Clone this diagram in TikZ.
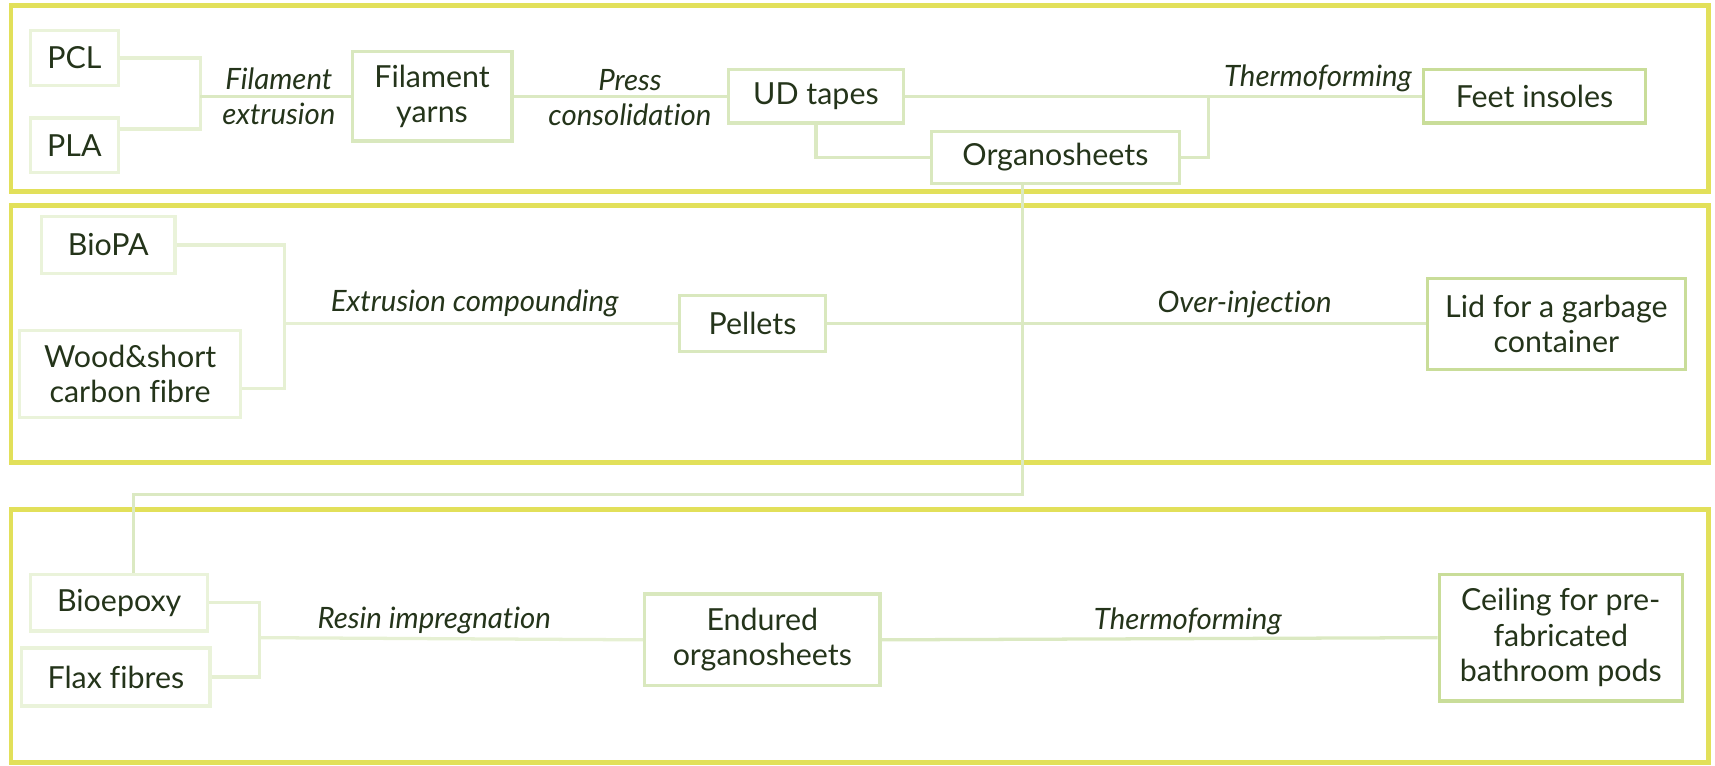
\documentclass[tikz,border=0pt]{standalone}
\usepackage{fontspec}
\setmainfont{Lato}[Ligatures=NoCommon]
\usetikzlibrary{calc}
\definecolor{frameyellow}{RGB}{226,224,90}
\definecolor{boxpale}{RGB}{234,243,218}
\definecolor{boxmid}{RGB}{217,232,190}
\definecolor{boxstrong}{RGB}{201,221,153}
\definecolor{linkpale}{RGB}{230,240,211}
\definecolor{linkmid}{RGB}{219,233,194}
\definecolor{textgreen}{RGB}{36,52,26}
\newcommand{\diagfont}{\fontsize{7.9}{9.2}\selectfont}
\newcommand{\procfont}{\fontsize{7.65}{9.2}\selectfont\itshape}
\tikzset{
    frame/.style={draw=frameyellow, line width=1.2pt}, % the three yellow panels
    src/.style={draw=boxpale, line width=0.85pt, text=textgreen, align=center, inner sep=0pt, font=\diagfont},
    mid/.style={src, draw=boxmid},
    prod/.style={src, draw=boxstrong},
    link/.style={draw=linkmid, line width=0.85pt},
    linkin/.style={link, draw=linkpale},
    proc/.style={font=\procfont, text=textgreen, align=center, inner sep=0pt},
}

\begin{document}
\begin{tikzpicture}[x=0.01cm, y=-0.01cm]
  \useasboundingbox (0,0) rectangle (1568,700);

  % Panels
  \draw[frame] (10,5) rectangle (1562,175);
  \draw[frame] (10,188) rectangle (1562,423);
  \draw[frame] (10,466) rectangle (1562,697);

  % Top panel
  \node[src, minimum width=0.80cm, minimum height=0.50cm] (PCL) at (68,53) {PCL};
  \node[src, minimum width=0.80cm, minimum height=0.50cm] (PLA) at (68,133) {PLA};
  \node[mid, minimum width=1.46cm, minimum height=0.82cm] (yarns) at (395,88) {Filament\\yarns};
  \node[mid, minimum width=1.60cm, minimum height=0.49cm] (udtapes) at (746,88) {UD tapes};
  \node[mid, minimum width=2.27cm, minimum height=0.48cm] (organo) at (965,144) {Organosheets};
  \node[prod, minimum width=2.03cm, minimum height=0.49cm] (insoles) at (1403,88) {Feet insoles};

  \coordinate (jA) at (183,88);
  \coordinate (jB) at (1105,88);
  \draw[linkin] (PCL.east) -| (jA);
  \draw[linkin] ([yshift=0.15cm]PLA.east) -| (jA);
  \draw[link] (jA) -- (yarns.west);
  \draw[link] (yarns.east) -- (udtapes.west);
  \draw[link] (udtapes.south) |- (organo.west);
  \draw[link] (udtapes.east) -- (insoles.west);
  \draw[link] (organo.east) -| (jB);

  \node[proc] (lblExtr) at (255,88) {Filament\\extrusion};
  \node[proc] (lblPress) at (576,89) {Press\\consolidation};
  \node[proc] (lblThermoA) at (1205,72) {Thermoforming};

  % Middle panel
  \node[src, minimum width=1.22cm, minimum height=0.52cm] (biopa) at (99,224) {BioPA};
  \node[src, minimum width=2.02cm, minimum height=0.80cm] (wood) at (119,342) {Wood\&short\\carbon fibre};
  \node[mid, minimum width=1.33cm, minimum height=0.51cm] (pellets) at (688,296) {Pellets};
  \node[prod, minimum width=2.36cm, minimum height=0.83cm] (lid) at (1423,296) {Lid for a garbage\\container};

  \coordinate (jC) at (260,296);
  \draw[linkin] (biopa.east) -| (jC);
  \draw[linkin] ([yshift=-0.13cm]wood.east) -| (jC);
  \draw[linkin] (jC) -- (pellets.west);
  \draw[link] (pellets.east) -- (lid.west);

  \node[proc] (lblComp) at (434,277) {Extrusion compounding};
  \node[proc] (lblInj) at (1138,278) {Over-injection};

  % Bottom panel
  \node[src, minimum width=1.62cm, minimum height=0.52cm] (bioepoxy) at (109,551) {Bioepoxy};
  \node[src, minimum width=1.72cm, minimum height=0.53cm] (flax) at (106,619) {Flax fibres};
  \node[mid, minimum width=2.15cm, minimum height=0.84cm] (endured) at (697,585) {Endured\\organosheets};
  \node[prod, minimum width=2.22cm, minimum height=1.16cm] (ceiling) at (1427,583) {Ceiling for pre-\\fabricated\\bathroom pods};

  \coordinate (jD) at (237,583);
  \coordinate (dropA) at (935,452);
  \draw[linkin] (bioepoxy.east) -| (jD);
  \draw[linkin] (flax.east) -| (jD);
  \draw[linkin] (jD) -- (endured.west);
  \draw[link] (endured.east) -- (ceiling.west);

  % Organosheets feed the bottom panel
  \draw[link] (organo.south -| dropA) -- (dropA) -| ([xshift=0.13cm]bioepoxy.north);

  \node[proc] (lblResin) at (397,567) {Resin impregnation};
  \node[proc] (lblThermoB) at (1086,568) {Thermoforming};
\end{tikzpicture}
\end{document}
